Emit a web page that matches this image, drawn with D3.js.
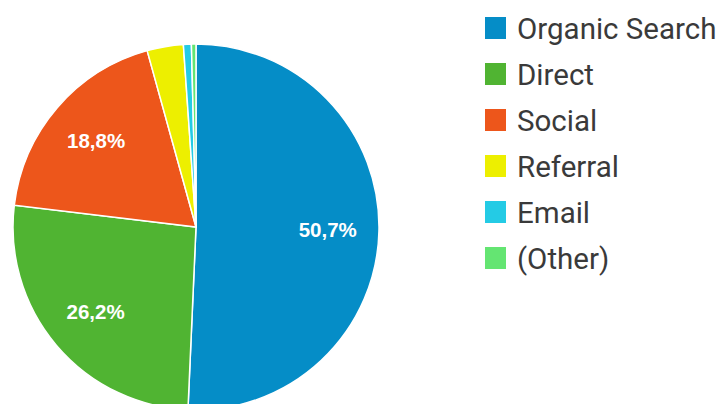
<!DOCTYPE html>
<meta charset="utf-8">
<script src="https://d3js.org/d3.v7.min.js"></script>
<style>
    body { margin: 0; background: #fff; }
    .legend text { font-family: Roboto, sans-serif; font-size: 29.5px; fill: #3a3a3a; }
    .lbl { font-family: "Liberation Sans", Arial, sans-serif; font-size: 20.5px; font-weight: bold; fill: #fff; }
</style>
<div id="my_dataviz"></div>
<script>
    // traffic channels
    var categories = ["Organic Search", "Direct", "Social", "Referral", "Email", "(Other)"];
    var values = [50.7, 26.2, 18.8, 3.2, 0.7, 0.4];
    var colors = ["#058DC7", "#50B432", "#ED561B", "#EDEF00", "#24CBE5", "#64E572"];
    var labels = ["50,7%", "26,2%", "18,8%", "", "", ""];

    var width = 720, height = 404;
    var cx = 196, cy = 227, radius = 183;

    var svg = d3.select("#my_dataviz")
        .append("svg")
        .attr("width", width)
        .attr("height", height);

    var data = categories.map(function (c, i) {
        return { name: c, value: values[i], color: colors[i], label: labels[i] };
    });

    var pie = d3.pie()
        .sort(null)
        .value(function (d) { return d.value; });

    var arc = d3.arc().innerRadius(0).outerRadius(radius);
    var labelArc = d3.arc().innerRadius(radius * 0.72).outerRadius(radius * 0.72);

    var g = svg.append("g")
        .attr("transform", "translate(" + cx + "," + cy + ")");

    var arcs = pie(data);

    g.selectAll("path")
        .data(arcs)
        .enter()
        .append("path")
        .attr("d", arc)
        .attr("fill", function (d) { return d.data.color; })
        .attr("stroke", "#fff")
        .attr("stroke-width", 1.5);

    g.selectAll(".lbl")
        .data(arcs)
        .enter()
        .append("text")
        .attr("class", "lbl")
        .attr("transform", function (d) { return "translate(" + labelArc.centroid(d) + ")"; })
        .attr("text-anchor", "middle")
        .attr("dy", "0.35em")
        .text(function (d) { return d.data.label; });

    // legend
    var legY = d3.scaleBand()
        .domain(categories)
        .range([5, 281]);

    var leg = svg.append("g").attr("class", "legend")
        .selectAll("g")
        .data(data)
        .enter()
        .append("g")
        .attr("transform", function (d) {
            return "translate(485," + (legY(d.name) + legY.bandwidth() / 2) + ")";
        });

    leg.append("rect")
        .attr("x", 0)
        .attr("y", -11)
        .attr("width", 21)
        .attr("height", 22)
        .attr("fill", function (d) { return d.color; });

    leg.append("text")
        .attr("x", 32)
        .attr("dy", "0.36em")
        .text(function (d) { return d.name; });
</script>
